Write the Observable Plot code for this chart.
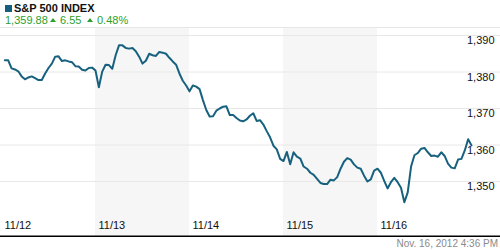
<!DOCTYPE html>
<html><head><meta charset="utf-8">
<script src="https://cdn.jsdelivr.net/npm/d3@7"></script>
<script src="https://cdn.jsdelivr.net/npm/@observablehq/plot@0.6"></script>
<style>
html,body{margin:0;padding:0;background:#fff;width:500px;height:250px;overflow:hidden;font-family:"Liberation Sans",Arial,sans-serif;}
#hdr{position:relative;height:27px;border-bottom:1px solid #e6e6e6;}
#sq{position:absolute;left:5px;top:5px;width:7px;height:7px;background:#135f7d;}
.t{position:absolute;font-size:11px;line-height:11px;white-space:nowrap;}
#title{left:14px;top:3px;font-weight:bold;color:#111;}
.g{color:#2c9f2c;top:15px;}
.tri{position:absolute;top:18px;width:0;height:0;border-left:3.5px solid transparent;border-right:3.5px solid transparent;border-bottom:4px solid #2c9f2c;}
#chart{height:209px;}
#chart svg{display:block;}
#foot{height:13px;line-height:13px;font-size:10px;color:#8a8a8a;text-align:right;padding-right:2px;}
</style></head><body>
<div id="hdr">
  <div id="sq"></div>
  <div id="title" class="t"></div>
  <div id="q1" class="t g" style="left:5px"></div>
  <div class="tri" style="left:50px"></div>
  <div id="q2" class="t g" style="left:60px"></div>
  <div class="tri" style="left:87px"></div>
  <div id="q3" class="t g" style="left:97px"></div>
</div>
<div id="chart"></div>
<div id="foot"></div>
<script>
const titleText = "S&P 500 INDEX";
const lastValue = "1,359.88";
const change = "6.55";
const pctChange = "0.48%";
const timestamp = "Nov. 16, 2012 4:36 PM";

const days = ["11/12", "11/13", "11/14", "11/15", "11/16"];
const yTicks = [1350, 1360, 1370, 1380, 1390];

const d1112 = [1383.2, 1383.2, 1381.0, 1380.7, 1380.2, 1378.8, 1378.0, 1378.5, 1378.8, 1378.3, 1377.8, 1377.8, 1379.6, 1381.1, 1382.3, 1384.2, 1384.3, 1383.0, 1383.2, 1382.9, 1382.7, 1381.6, 1381.5, 1380.6, 1380.4, 1381.1, 1381.2, 1380.4];
const d1113 = [1375.8, 1380.1, 1382.0, 1381.9, 1380.9, 1384.6, 1387.3, 1387.3, 1386.6, 1386.4, 1386.6, 1385.7, 1384.2, 1382.3, 1383.1, 1385.0, 1384.6, 1384.4, 1385.5, 1385.3, 1385.0, 1383.9, 1382.9, 1382.0, 1379.6, 1377.6, 1376.3, 1374.7];
const d1114 = [1376.3, 1376.0, 1375.3, 1372.3, 1369.6, 1367.8, 1367.9, 1369.4, 1370.0, 1370.5, 1370.6, 1368.2, 1368.2, 1367.4, 1366.7, 1366.5, 1367.0, 1368.0, 1368.7, 1366.6, 1366.8, 1365.6, 1363.8, 1362.1, 1359.8, 1358.8, 1356.2, 1355.6];
const d1115 = [1358.1, 1354.7, 1358.0, 1356.8, 1356.3, 1354.1, 1353.5, 1352.4, 1351.8, 1350.7, 1349.6, 1349.3, 1349.3, 1350.5, 1350.3, 1351.2, 1353.5, 1355.4, 1356.4, 1356.0, 1354.7, 1353.8, 1353.5, 1351.6, 1350.0, 1350.6, 1353.0, 1353.5];
const d1116 = [1352.4, 1350.2, 1348.1, 1349.8, 1351.0, 1349.8, 1348.3, 1344.3, 1347.0, 1354.1, 1357.2, 1357.8, 1359.0, 1359.2, 1358.0, 1357.0, 1357.1, 1356.8, 1358.0, 1357.0, 1354.9, 1353.8, 1353.6, 1356.0, 1356.2, 1358.5, 1361.6, 1359.9];

document.getElementById("title").textContent = titleText;
document.getElementById("q1").textContent = lastValue;
document.getElementById("q2").textContent = change;
document.getElementById("q3").textContent = pctChange;
document.getElementById("foot").textContent = timestamp;

const series = [d1112, d1113, d1114, d1115, d1116];
const data = series.flatMap((vals, d) => vals.map((v, i) => ({x: d + (i + 1) / vals.length, v})));
const shadedDays = [1, 3];
const yDomain = [1334.93, 1391.92];

const plot = Plot.plot({
  width: 500, height: 209,
  marginTop: 0, marginBottom: 1, marginLeft: 0, marginRight: 0,
  x: {domain: [-1 / 94, 499 / 94], axis: null},
  y: {domain: yDomain, axis: null},
  style: {fontFamily: "'Liberation Sans', Arial, sans-serif", fontSize: "11px", background: "#fff"},
  marks: [
    Plot.rect(shadedDays, {x1: d => d, x2: d => d + 1, fill: "#f6f6f6"}),
    Plot.ruleY(yTicks, {stroke: "#e8e8e8"}),
    Plot.text(yTicks, {y: d => d, text: d => d3.format(",")(d), frameAnchor: "right", textAnchor: "end", dx: -6, dy: 5, fill: "#111"}),
    Plot.text(days, {x: (d, i) => i, text: d => d, frameAnchor: "bottom", textAnchor: "start", dx: 3, dy: -8, fill: "#111"}),
    Plot.line(data, {x: "x", y: "v", stroke: "#17617f", strokeWidth: 2}),
    Plot.ruleY([yDomain[0]], {stroke: "#000", strokeWidth: 2})
  ]
});
document.getElementById("chart").appendChild(plot);
</script>
</body></html>
